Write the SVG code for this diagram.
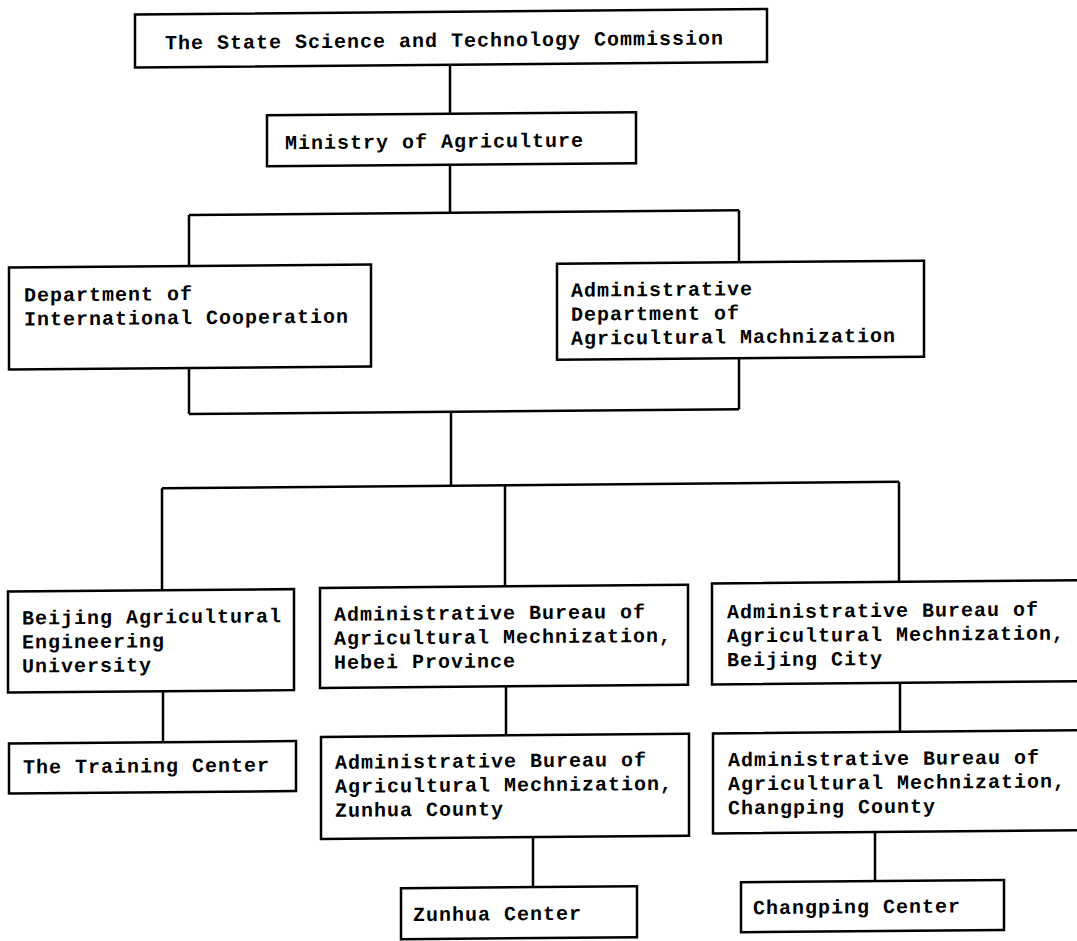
<svg xmlns="http://www.w3.org/2000/svg" width="1077" height="941" viewBox="0 0 1077 941">
  <style>
    .box { fill: none; stroke: #000; stroke-width: 2.5; }
    .lbl { font-family: "Liberation Mono", "DejaVu Sans Mono", monospace; font-size: 20px; letter-spacing: 1px; font-weight: bold; fill: #000; }
    .conn path { fill: none; stroke: #000; stroke-width: 2.5; }
  </style>
  <rect x="0" y="0" width="1077" height="941" fill="#fff"/>
  <g transform="matrix(1 -0.0087 0 1 0 4.68)">
    <g class="conn" id="connectors">
      <path d="M450 64 V113"/>
      <path d="M450 164 V212"/>
      <path d="M189 212 H739"/>
      <path d="M189 212 V263"/>
      <path d="M739 212 V264"/>
      <path d="M189 365 V411"/>
      <path d="M739 360 V411"/>
      <path d="M189 411 H739"/>
      <path d="M451 411 V485"/>
      <path d="M162 485 H899"/>
      <path d="M162 485 V587"/>
      <path d="M505 485 V586"/>
      <path d="M899 485 V585"/>
      <path d="M163 688 V739"/>
      <path d="M506 686 V735"/>
      <path d="M900 686 V735"/>
      <path d="M533 837 V887"/>
      <path d="M875 835 V884"/>
    </g>
    <g id="n1">
      <rect class="box" x="135" y="11" width="632" height="53"/>
      <text class="lbl" x="165" y="46">The State Science and Technology Commission</text>
    </g>
    <g id="n2">
      <rect class="box" x="267" y="113" width="369" height="51"/>
      <text class="lbl" x="285" y="147">Ministry of Agriculture</text>
    </g>
    <g id="n3">
      <rect class="box" x="9" y="263" width="362" height="102"/>
      <text class="lbl" x="24" y="297">Department of</text>
      <text class="lbl" x="24" y="321">International Cooperation</text>
    </g>
    <g id="n4">
      <rect class="box" x="557" y="264" width="367" height="96"/>
      <text class="lbl" x="571" y="297">Administrative</text>
      <text class="lbl" x="571" y="321">Department of</text>
      <text class="lbl" x="571" y="345">Agricultural Machnization</text>
    </g>
    <g id="n5">
      <rect class="box" x="8" y="587" width="286" height="101"/>
      <text class="lbl" x="22" y="620">Beijing Agricultural</text>
      <text class="lbl" x="22" y="644">Engineering</text>
      <text class="lbl" x="22" y="668">University</text>
    </g>
    <g id="n6">
      <rect class="box" x="320" y="586" width="368" height="100"/>
      <text class="lbl" x="334" y="619">Administrative Bureau of</text>
      <text class="lbl" x="334" y="643">Agricultural Mechnization,</text>
      <text class="lbl" x="334" y="667">Hebei Province</text>
    </g>
    <g id="n7">
      <rect class="box" x="712" y="585" width="420" height="101"/>
      <text class="lbl" x="727" y="620">Administrative Bureau of</text>
      <text class="lbl" x="727" y="644">Agricultural Mechnization,</text>
      <text class="lbl" x="727" y="668">Beijing City</text>
    </g>
    <g id="n8">
      <rect class="box" x="9" y="739" width="287" height="50"/>
      <text class="lbl" x="23" y="769">The Training Center</text>
    </g>
    <g id="n9">
      <rect class="box" x="321" y="735" width="368" height="102"/>
      <text class="lbl" x="335" y="767">Administrative Bureau of</text>
      <text class="lbl" x="335" y="791">Agricultural Mechnization,</text>
      <text class="lbl" x="335" y="815">Zunhua County</text>
    </g>
    <g id="n10">
      <rect class="box" x="713" y="735" width="420" height="100"/>
      <text class="lbl" x="728" y="768">Administrative Bureau of</text>
      <text class="lbl" x="728" y="792">Agricultural Mechnization,</text>
      <text class="lbl" x="728" y="816">Changping County</text>
    </g>
    <g id="n11">
      <rect class="box" x="401" y="887" width="236" height="51"/>
      <text class="lbl" x="413" y="920">Zunhua Center</text>
    </g>
    <g id="n12">
      <rect class="box" x="741" y="884" width="263" height="50"/>
      <text class="lbl" x="753" y="916">Changping Center</text>
    </g>
  </g>
</svg>
